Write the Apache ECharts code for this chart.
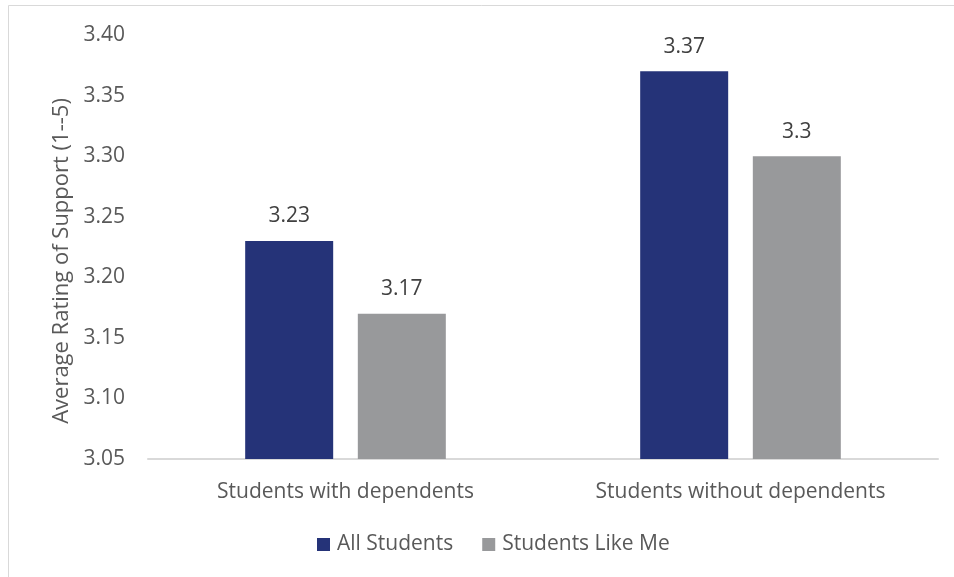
<!DOCTYPE html>
<html>
<head>
<meta charset="utf-8">
<style>
  html, body { margin: 0; padding: 0; background: #ffffff; }
  #chart { width: 954px; height: 577px; }
</style>
<script src="https://cdn.jsdelivr.net/npm/echarts@6/dist/echarts.min.js"></script>
</head>
<body>
<div id="chart"></div>
<script>
// Average rating of support, by dependent status
const categories = ['Students with dependents', 'Students without dependents'];
const allStudents = [3.23, 3.37];
const studentsLikeMe = [3.17, 3.30];
const seriesNames = ['All Students', 'Students Like Me'];
const yTicks = { min: 3.05, max: 3.40, step: 0.05 };
const yAxisTitle = 'Average Rating of Support (1--5)';

const FONT = 'Open Sans';
const TEXT = '#595959';

const chart = echarts.init(document.getElementById('chart'), null, { renderer: 'canvas' });

chart.setOption({
  animation: false,
  backgroundColor: '#ffffff',
  textStyle: { fontFamily: FONT },
  graphic: [{
    type: 'rect',
    shape: { x: 8.5, y: 5.5, width: 980, height: 620 },
    style: { fill: 'none', stroke: '#d9d9d9', lineWidth: 1 },
    silent: true,
    z: -10
  }],
  grid: { left: 148, right: 16, top: 35, bottom: 118 },
  legend: {
    bottom: 17,
    left: 312,
    itemWidth: 13,
    itemHeight: 13,
    itemGap: 29,
    icon: 'rect',
    textStyle: { color: TEXT, fontSize: 21, fontFamily: FONT, padding: [0, 0, 0, 2] },
    data: seriesNames
  },
  xAxis: {
    type: 'category',
    data: categories,
    axisLine: { show: true, lineStyle: { color: '#d9d9d9', width: 2 } },
    axisTick: { show: false },
    axisLabel: { color: TEXT, fontSize: 21, margin: 23, fontFamily: FONT }
  },
  yAxis: {
    type: 'value',
    min: yTicks.min,
    max: yTicks.max,
    interval: yTicks.step,
    name: yAxisTitle,
    nameLocation: 'middle',
    nameGap: 74,
    nameTextStyle: { color: TEXT, fontSize: 22, fontFamily: FONT, padding: [0, 28, 0, 0] },
    axisLine: { show: false },
    axisTick: { show: false },
    splitLine: { show: false },
    axisLabel: {
      color: TEXT, fontSize: 21, margin: 23, fontFamily: FONT,
      formatter: v => v.toFixed(2)
    }
  },
  series: [
    {
      name: seriesNames[0],
      type: 'bar',
      data: allStudents,
      barWidth: 88,
      barGap: '28%',
      itemStyle: { color: '#253378' },
      label: { show: true, position: 'top', distance: 14, color: '#404040', fontSize: 21, fontFamily: FONT }
    },
    {
      name: seriesNames[1],
      type: 'bar',
      data: studentsLikeMe,
      barWidth: 88,
      itemStyle: { color: '#98999b' },
      label: { show: true, position: 'top', distance: 14, color: '#404040', fontSize: 21, fontFamily: FONT }
    }
  ]
});
</script>
</body>
</html>
